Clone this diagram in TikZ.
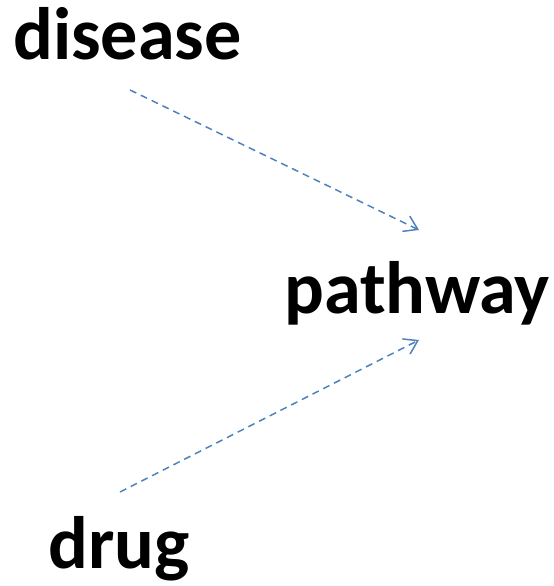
\documentclass[tikz,border=0pt]{standalone}
\usepackage{fontspec}
\setmainfont{Carlito}
\usetikzlibrary{arrows.meta}
\definecolor{arrblue}{HTML}{4F81BD}
\tikzset{
  lbl/.style={font=\bfseries\fontsize{74.5}{80}\selectfont, inner sep=0pt, anchor=base west},
  conn/.style={draw=arrblue, line width=1.5bp, dash pattern=on 7bp off 5bp, -{Straight Barb[length=13bp,width=17bp,line width=1.5bp]}}
}
\begin{document}
\begin{tikzpicture}[x=1bp,y=-1bp]
\useasboundingbox (0,0) rectangle (554,586);
\node[lbl] (disease) at (13,60) {disease};
\node[lbl] (pathway) at (284,313) {pathway};
\node[lbl] (drug) at (48,568) {drug};
\coordinate (s1) at (130,90);
\coordinate (e1) at (419,230);
\coordinate (s2) at (120,492);
\coordinate (e2) at (419,340);
\draw[conn] (s1) -- (e1);
\draw[conn] (s2) -- (e2);
\end{tikzpicture}
\end{document}
